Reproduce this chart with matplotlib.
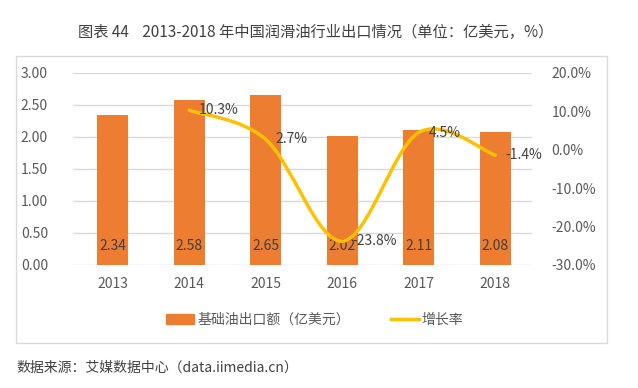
import numpy as np
import matplotlib.pyplot as plt
from matplotlib.path import Path
from matplotlib.patches import PathPatch, Rectangle, Patch
from matplotlib.lines import Line2D

plt.rcParams['font.family'] = ['Noto Sans CJK SC', 'DejaVu Sans']
plt.rcParams['font.weight'] = 'light'

years = ['2013', '2014', '2015', '2016', '2017', '2018']
export = [2.34, 2.58, 2.65, 2.02, 2.11, 2.08]
growth_years = [1, 2, 3, 4, 5]
growth = [10.3, 2.7, -23.8, 4.5, -1.4]
left_ticks = [0, 0.5, 1.0, 1.5, 2.0, 2.5, 3.0]
right_ticks = [-30, -20, -10, 0, 10, 20]

BAR = '#ED7D31'
LINE = '#FFC000'
TXT = '#595959'
GRID = '#D9D9D9'

fig = plt.figure(figsize=(6.38, 3.88), dpi=100)
fig.patch.set_facecolor('white')

# outer frame
fig.patches.append(Rectangle((16 / 638, 1 - 343 / 388), (607 - 16) / 638, (343 - 56) / 388,
                             transform=fig.transFigure, fill=False, edgecolor=GRID, lw=1))

ax = fig.add_axes([73 / 638, 1 - 265 / 388, (532 - 73) / 638, (265 - 73) / 388])
x = np.arange(len(years))
ax.bar(x, export, width=0.41, color=BAR, zorder=2)
ax.set_xlim(-0.52, 5.48)
ax.set_ylim(0, 3)
ax.set_yticks(left_ticks)
ax.set_yticklabels(['%.2f' % v for v in left_ticks])
ax.set_xticks(x)
ax.set_xticklabels(years)
ax.grid(axis='y', color=GRID, lw=1, zorder=0)
for s in ax.spines.values():
    s.set_visible(False)
ax.tick_params(length=0, colors=TXT, labelsize=10)
ax.tick_params(axis='y', pad=18)
ax.tick_params(axis='x', pad=9)

for xi, v in zip(x, export):
    ax.annotate('%.2f' % v, (xi, 0), xytext=(0, 14), textcoords='offset points',
                ha='center', va='center', fontsize=10, color='#404040', zorder=4)

ax2 = ax.twinx()
ax2.set_ylim(-30, 20)
ax2.set_yticks(right_ticks)
ax2.set_yticklabels(['%.1f%%' % v for v in right_ticks])
for s in ax2.spines.values():
    s.set_visible(False)
ax2.tick_params(length=0, colors=TXT, labelsize=10, pad=14)

# smoothed line (Excel-like bezier through the points)
pts = np.column_stack([growth_years, growth]).astype(float)
verts = [pts[0]]
codes = [Path.MOVETO]
n = len(pts)
for i in range(n - 1):
    p0 = pts[i - 1] if i > 0 else pts[i]
    p1, p2 = pts[i], pts[i + 1]
    p3 = pts[i + 2] if i + 2 < n else pts[i + 1]
    verts += [p1 + (p2 - p0) / 6, p2 - (p3 - p1) / 6, p2]
    codes += [Path.CURVE4] * 3
ax2.add_patch(PathPatch(Path(verts, codes), fill=False, edgecolor=LINE, lw=2.5,
                        capstyle='round', zorder=3))

for xi, v in zip(growth_years, growth):
    ax2.annotate('%.1f%%' % v, (xi, v), xytext=(7, 0), textcoords='offset points',
                 ha='left', va='center', fontsize=10, color='#404040', zorder=4)

fig.text(78 / 638, 1 - 32 / 388, '图表 44    2013-2018 年中国润滑油行业出口情况（单位：亿美元，%）',
         ha='left', va='center', fontsize=11, color='#404040')

handles = [Patch(color=BAR), Line2D([], [], color=LINE, lw=2.5)]
fig.legend(handles, ['基础油出口额（亿美元）', '增长率'], loc='center',
           bbox_to_anchor=(315 / 638, 1 - 320 / 388), ncol=2, frameon=False,
           fontsize=10, labelcolor=TXT, handlelength=2.0, handletextpad=0.2,
           columnspacing=3.0)

fig.text(16 / 638, 1 - 368 / 388, '数据来源：艾媒数据中心（data.iimedia.cn）',
         ha='left', va='center', fontsize=10, color='#404040')

fig.savefig('out.png', dpi=100)
